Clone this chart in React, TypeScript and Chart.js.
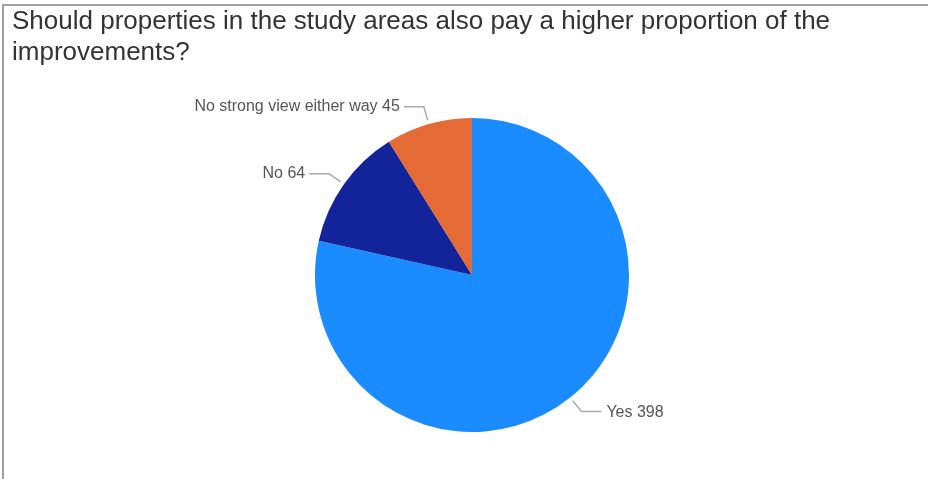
import React, { useEffect, useRef } from "react";
import { Chart, registerables } from "chart.js";

Chart.register(...registerables);

const titleLines = [
  "Should properties in the study areas also pay a higher proportion of the",
  "improvements?",
];
const categories = ["Yes", "No", "No strong view either way"];
const values = [398, 64, 45];
const colors = ["#1a8cff", "#13249a", "#e46a36"];

const FONT = "'Liberation Sans', Arial, sans-serif";

const decorPlugin = {
  id: "decor",
  beforeDraw(chart: any) {
    const ctx = chart.ctx;
    ctx.save();
    ctx.fillStyle = "#ffffff";
    ctx.fillRect(0, 0, chart.width, chart.height);
    ctx.strokeStyle = "#a0a0a0";
    ctx.lineWidth = 2;
    ctx.beginPath();
    ctx.moveTo(3, chart.height);
    ctx.lineTo(3, 5);
    ctx.lineTo(chart.width, 5);
    ctx.stroke();
    ctx.fillStyle = "#333333";
    ctx.font = `26px ${FONT}`;
    ctx.textBaseline = "alphabetic";
    ctx.textAlign = "left";
    titleLines.forEach((t, i) => ctx.fillText(t, 12, 28.5 + i * 31));
    ctx.restore();
  },
  afterDatasetsDraw(chart: any) {
    const ctx = chart.ctx;
    const meta = chart.getDatasetMeta(0);
    ctx.save();
    ctx.font = `16px ${FONT}`;
    ctx.textBaseline = "middle";
    meta.data.forEach((arc: any, i: number) => {
      const { x, y, startAngle, endAngle, outerRadius } = arc.getProps(
        ["x", "y", "startAngle", "endAngle", "outerRadius"],
        true
      );
      const mid = (startAngle + endAngle) / 2;
      const c = Math.cos(mid);
      const s = Math.sin(mid);
      const r1 = outerRadius + 4;
      const r2 = outerRadius + 18;
      const p1x = x + r1 * c;
      const p1y = y + r1 * s;
      const p2x = x + r2 * c;
      const p2y = y + r2 * s;
      const right = c >= 0;
      const p3x = p2x + (right ? 20 : -20);
      ctx.strokeStyle = "#aaaaaa";
      ctx.lineWidth = 1.5;
      ctx.beginPath();
      ctx.moveTo(p1x, p1y);
      ctx.lineTo(p2x, p2y);
      ctx.lineTo(p3x, p2y);
      ctx.stroke();
      ctx.fillStyle = "#555555";
      ctx.textAlign = right ? "left" : "right";
      const label = `${chart.data.labels[i]} ${values[i]}`;
      ctx.fillText(label, p3x + (right ? 5 : -4), p2y + (right ? 1 : 0));
    });
    ctx.restore();
  },
};

export default function App() {
  const ref = useRef<HTMLCanvasElement | null>(null);
  useEffect(() => {
    if (!ref.current) return;
    const chart = new Chart(ref.current, {
      type: "pie",
      data: {
        labels: categories,
        datasets: [
          {
            data: values,
            backgroundColor: colors,
            borderWidth: 0,
          },
        ],
      },
      options: {
        responsive: false,
        animation: false,
        layout: { padding: { top: 118, bottom: 47, left: 100, right: 84 } },
        plugins: {
          legend: { display: false },
          tooltip: { enabled: false },
          title: { display: false },
        },
      },
      plugins: [decorPlugin],
    });
    return () => chart.destroy();
  }, []);
  return (
    <div style={{ position: "fixed", left: 0, top: 0, width: 928, height: 479, background: "#fff" }}>
      <canvas ref={ref} width={928} height={479} style={{ display: "block", width: 928, height: 479 }} />
    </div>
  );
}
